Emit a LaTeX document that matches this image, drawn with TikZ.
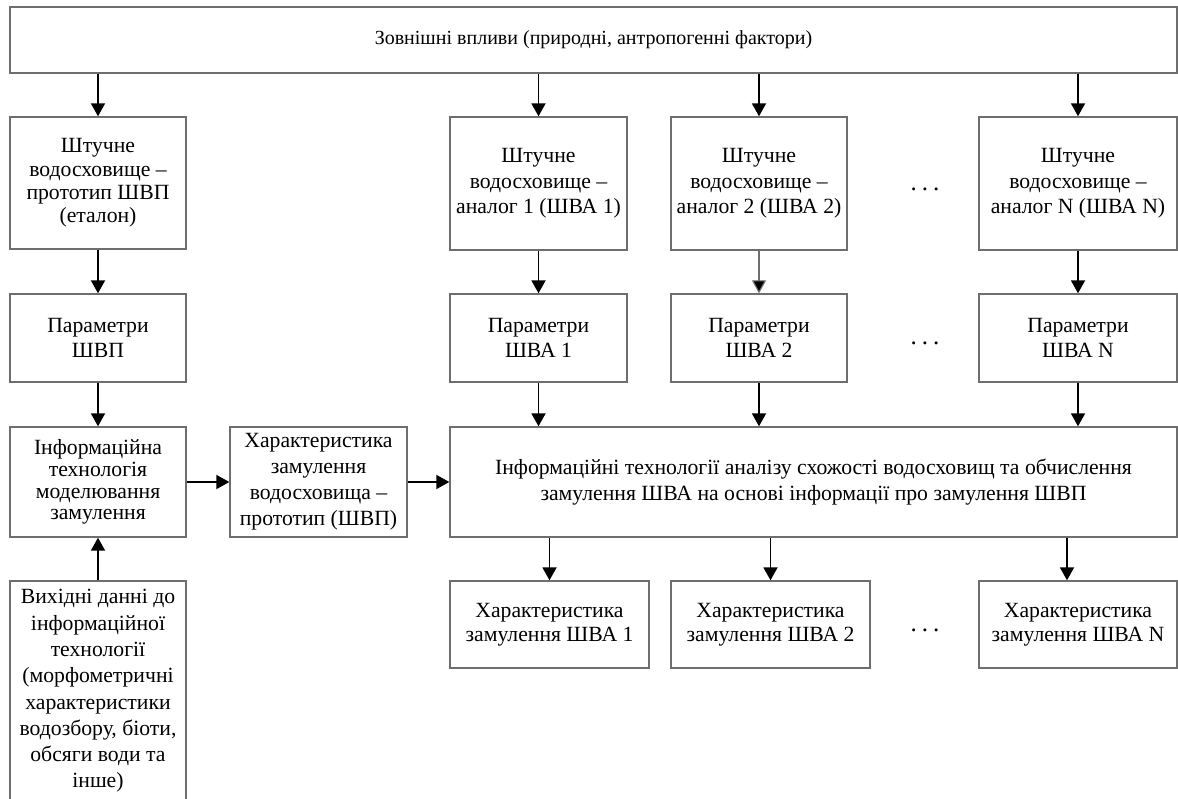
\documentclass[tikz,border=0pt]{standalone}
\usepackage{fontspec}
\setmainfont{Liberation Serif}
\usetikzlibrary{arrows.meta}
\definecolor{boxgray}{RGB}{110,110,110}
\newcommand{\bfs}[1]{\fontsize{21.7pt}{#1pt}\selectfont}
\begin{document}
\begin{tikzpicture}[x=1pt,y=-1pt,
  box/.style={draw=boxgray, line width=1.4pt, fill=white, align=center,
    inner sep=0pt, font=\bfs{25.5}},
  arr/.style={line width=1.9pt, -{Triangle[width=14pt,length=13pt]}},
  thinarr/.style={draw=boxgray, line width=1.1pt, -{Triangle[width=14pt,length=13pt,fill=black]}},
  dotsnode/.style={anchor=base, inner sep=0pt, font=\fontsize{25pt}{28pt}\selectfont},
]
\useasboundingbox (0,0) rectangle (1178,799);

% top: external influences
\node[box, minimum width=1167pt, minimum height=66pt, font=\fontsize{20pt}{24pt}\selectfont] (top) at (593.5,40)
  {Зовнішні впливи (природні, антропогенні фактори)};

% row of reservoirs
\node[box, minimum width=176pt, minimum height=132pt, font=\bfs{23.3}] (proto) at (98,183)
  {Штучне\\ водосховище –\\ прототип ШВП\\ (еталон)};
\node[box, minimum width=177pt, minimum height=133pt] (a1) at (538.5,183.5)
  {Штучне\\ водосховище –\\ аналог 1 (ШВА 1)};
\node[box, minimum width=176pt, minimum height=133pt] (a2) at (759,183.5)
  {Штучне\\ водосховище –\\ аналог 2 (ШВА 2)};
\node[box, minimum width=198pt, minimum height=133pt] (aN) at (1078,183.5)
  {Штучне\\ водосховище –\\ аналог N (ШВА N)};

% parameters
\node[box, minimum width=176pt, minimum height=88pt] (pP) at (98,338)
  {Параметри\\ ШВП};
\node[box, minimum width=177pt, minimum height=88pt] (p1) at (538.5,338)
  {Параметри\\ ШВА 1};
\node[box, minimum width=176pt, minimum height=88pt] (p2) at (759,338)
  {Параметри\\ ШВА 2};
\node[box, minimum width=198pt, minimum height=88pt] (pN) at (1078,338)
  {Параметри\\ ШВА N};

% modelling and analysis
\node[box, minimum width=176pt, minimum height=110pt, font=\bfs{21.7}] (it) at (98,482)
  {Інформаційна\\ технологія\\ моделювання\\ замулення};
\node[box, minimum width=177pt, minimum height=110pt, font=\bfs{26}] (ch) at (318.5,482)
  {Характеристика\\ замулення\\ водосховища –\\ прототип (ШВП)};
\node[box, minimum width=727pt, minimum height=110pt, font=\bfs{26.7}] (main) at (813.5,482)
  {Інформаційні технології аналізу схожості водосховищ та обчислення\\
   замулення ШВА на основі інформації про замулення ШВП};

% results
\node[box, minimum width=199pt, minimum height=87pt, font=\bfs{24}] (c1) at (549.5,624.5)
  {Характеристика\\ замулення ШВА 1};
\node[box, minimum width=199pt, minimum height=87pt, font=\bfs{24}] (c2) at (770.5,624.5)
  {Характеристика\\ замулення ШВА 2};
\node[box, minimum width=198pt, minimum height=87pt, font=\bfs{24}] (cN) at (1078,624.5)
  {Характеристика\\ замулення ШВА N};

% input data
\node[box, minimum width=176pt, minimum height=220pt, font=\bfs{26.3}] (inp) at (98,691)
  {Вихідні данні до\\ інформаційної\\ технології\\ (морфометричні\\ характеристики\\
   водозбору, біоти,\\ обсяги води та\\ інше)};

% ellipses between columns
\node[dotsnode] (d1) at (925,191) {.\hspace{5pt}.\hspace{5pt}.};
\node[dotsnode] (d2) at (925,345) {.\hspace{5pt}.\hspace{5pt}.};
\node[dotsnode] (d3) at (925,631) {.\hspace{5pt}.\hspace{5pt}.};

% connectors
\draw[arr] (top.south -| proto.north) -- (proto.north);
\draw[arr] (top.south -| a1.north) -- (a1.north);
\draw[arr] (top.south -| a2.north) -- (a2.north);
\draw[arr] (top.south -| aN.north) -- (aN.north);

\draw[arr] (proto.south) -- (pP.north);
\draw[arr] (a1.south) -- (p1.north);
\draw[thinarr] (a2.south) -- (p2.north);
\draw[arr] (aN.south) -- (pN.north);

\draw[arr] (pP.south) -- (it.north);
\draw[arr] (p1.south) -- (p1.south |- main.north);
\draw[arr] (p2.south) -- (p2.south |- main.north);
\draw[arr] (pN.south) -- (pN.south |- main.north);

\draw[arr] (inp.north) -- (it.south);
\draw[arr] (it.east) -- (ch.west);
\draw[arr] (ch.east) -- (ch.east -| main.west);

\draw[arr] (c1.north |- main.south) -- (c1.north);
\draw[arr] (c2.north |- main.south) -- (c2.north);
\draw[arr] ([xshift=-11pt]cN.north |- main.south) -- ([xshift=-11pt]cN.north);
\end{tikzpicture}
\end{document}
